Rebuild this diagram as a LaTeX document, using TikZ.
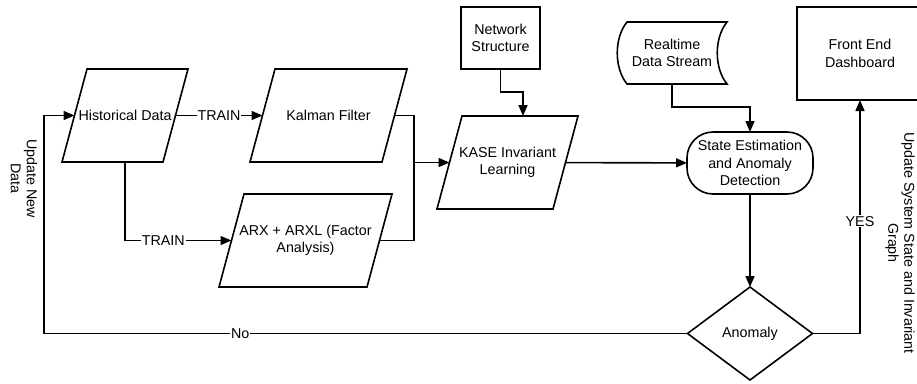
\documentclass[tikz,border=0pt]{standalone}
\usepackage{fontspec}
\setmainfont{Liberation Sans}
\usetikzlibrary{arrows.meta,calc}
\begin{document}
\begin{tikzpicture}[x=1pt,y=-1pt,
  every node/.style={font=\fontsize{14.3}{17.5}\selectfont, inner sep=0pt, outer sep=0pt},
  line/.style={line width=1.6pt},
  arr/.style={line width=1.6pt, -{Triangle[length=11pt,width=9pt]}},
  box/.style={draw, line width=1.6pt, align=center},
  body/.style={align=center, minimum height=93pt},
  lbl/.style={fill=white, inner sep=1pt},
  vtext/.style={rotate=-90, align=center, font=\fontsize{14.3}{16}\selectfont}]

\useasboundingbox (0,0) rectangle (917,383);

% parallelogram bodies
\node[body, minimum width=101pt] (hd) at (125,115.5) {Historical Data};
\node[body, minimum width=132pt] (kf) at (328.5,115.5) {Kalman Filter};
\node[body, minimum width=148pt] (arx) at (305.5,240.5) {ARX + ARXL (Factor\\Analysis)};
\node[body, minimum width=116pt] (kase) at (507.5,162.5) {KASE Invariant\\Learning};
\foreach \n in {hd,kf,arx,kase}
  \draw[line] ($(\n.north west)+(12.5,0)$) -- ($(\n.north east)+(12.5,0)$)
    -- ($(\n.south east)+(-12.5,0)$) -- ($(\n.south west)+(-12.5,0)$) -- cycle;

% other nodes
\node[box, minimum width=79pt, minimum height=62pt] (ns) at (500.5,38) {Network\\Structure};
\node[align=center, minimum width=110pt, minimum height=62pt] (ds) at (672,53) {Realtime\\Data Stream};
\draw[line] ($(ds.north west)+(10,0)$) -- (ds.north east)
  .. controls ($(ds.north east)+(-13,16)$) and ($(ds.south east)+(-13,-16)$) .. (ds.south east)
  -- ($(ds.south west)+(10,0)$)
  .. controls ($(ds.south west)+(-3,-16)$) and ($(ds.north west)+(-3,16)$) .. ($(ds.north west)+(10,0)$)
  -- cycle;
\node[box, rounded corners=26pt, minimum width=126pt, minimum height=62pt] (se) at (750,163)
  {State Estimation\\and Anomaly\\Detection};
\node[minimum width=125pt, minimum height=93pt] (an) at (750,333.5) {Anomaly};
\draw[line] (an.north) -- (an.east) -- (an.south) -- (an.west) -- cycle;
\node[box, minimum width=126pt, minimum height=93pt] (fe) at (860,53.5) {Front End\\Dashboard};

\node[vtext] (lt) at (24,178.5) {Update New\\Data};
\node[vtext] (rt) at (900,243) {Update System State and Invariant\\Graph};

% junction coordinates
\coordinate (j) at (414,162.5);
\coordinate (lc) at (44,333.5);
\coordinate (rc) at (860,333.5);
\coordinate (nk) at (523,92);
\coordinate (dk) at (750,107);

% connectors
\draw[arr] (hd) -- node[lbl]{TRAIN} (kf);
\draw[arr] (hd) |- node[lbl, pos=0.68]{TRAIN} (arx);
\draw[line] (kf) -| (j);
\draw[line] (arx) -| (j);
\draw[arr] (j) -- (kase);
\draw[arr] (ns) |- (nk) -- (nk |- kase.north);
\draw[arr] (kase) -- (se);
\draw[arr] (ds) |- (dk) -- (se);
\draw[arr] (se) -- (an.north);
\draw[arr] (an.west) -- node[lbl, pos=0.695]{No} (lc) |- (hd);
\draw[arr] (an.east) -- (rc) -- node[lbl, pos=0.48]{YES} (fe.south);
\end{tikzpicture}
\end{document}
